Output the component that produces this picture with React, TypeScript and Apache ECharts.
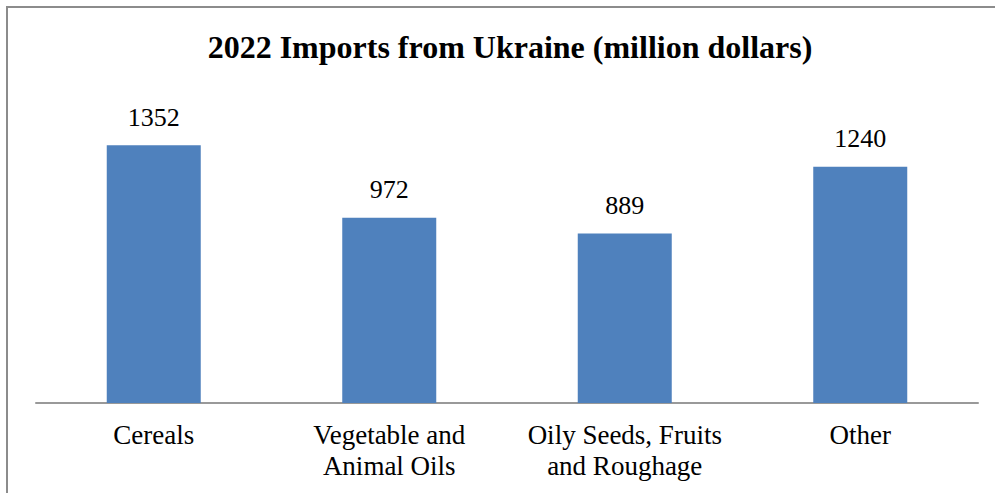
import React, { useEffect, useRef } from "react";
import * as echarts from "echarts";

const categories = ["Cereals", "Vegetable and\nAnimal Oils", "Oily Seeds, Fruits\nand Roughage", "Other"];
const values = [1352, 972, 889, 1240];
const titleText = "2022 Imports from Ukraine (million dollars)";

const FONT = "'Liberation Serif', 'Times New Roman', serif";

export default function App() {
  const ref = useRef<HTMLDivElement>(null);
  useEffect(() => {
    document.body.style.margin = "0";
    const chart = echarts.init(ref.current!, null, { renderer: "svg" });
    chart.setOption({
      animation: false,
      backgroundColor: "#fff",
      title: {
        text: titleText,
        left: 505,
        textAlign: "center",
        top: 26,
        textStyle: { fontFamily: FONT, fontWeight: "bold", fontSize: 32, color: "#000" },
      },
      graphic: [
        {
          type: "polyline",
          shape: { points: [[7, 520], [7, 7], [1020, 7]] },
          style: { stroke: "#8c8c8c", lineWidth: 2, fill: "none" },
        },
      ],
      grid: { left: 36, right: 17, top: 98, bottom: 90, containLabel: false },
      xAxis: {
        type: "category",
        data: categories,
        axisLine: { lineStyle: { color: "#999", width: 2 } },
        axisTick: { show: false },
        axisLabel: {
          fontFamily: FONT,
          fontSize: 27,
          color: "#000",
          margin: 16,
          lineHeight: 31,
          interval: 0,
        },
      },
      yAxis: {
        type: "value",
        min: 0,
        max: 1600,
        interval: 200,
        show: false,
      },
      series: [
        {
          type: "bar",
          data: values,
          barWidth: 94,
          itemStyle: { color: "#4F81BD" },
          label: {
            show: true,
            position: "top",
            distance: 15,
            fontFamily: FONT,
            fontSize: 26,
            color: "#000",
          },
        },
      ],
    });
    return () => chart.dispose();
  }, []);
  return <div ref={ref} style={{ position: "fixed", left: 0, top: 0, width: 995, height: 493 }} />;
}
